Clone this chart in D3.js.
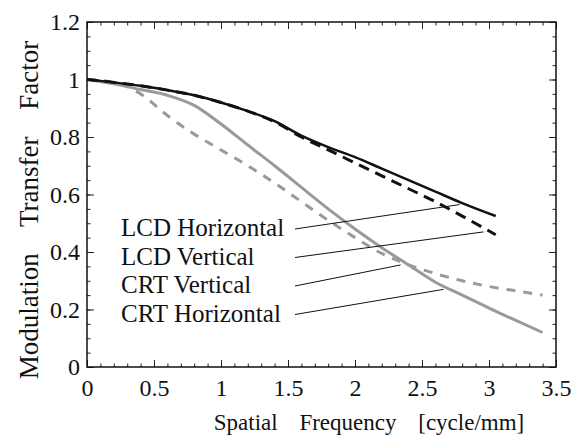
<!DOCTYPE html>
<html lang="en">
	<head>
		<meta charset="utf-8">
		<title>MTF - LCD vs CRT</title>
		<script type="text/javascript" src="https://cdn.jsdelivr.net/npm/d3@7"></script>
		<style type="text/css">
			body { margin: 0; background: #fff; }
			svg text { font-family: "Liberation Serif", "Times New Roman", serif !important; }
		</style>
	</head>
	<body>
		<script type="text/javascript">

			//Width and height
			var w = 573;
			var h = 438;
			var margin = { top: 22, right: 17, bottom: 71, left: 87 };

			//Data (x = spatial frequency, y = MTF)
			var lcdHx = [0, 0.2, 0.4, 0.6, 0.8, 1.0, 1.2, 1.4, 1.6, 1.8, 2.0, 2.2, 2.4, 2.6, 2.8, 3.05];
			var lcdHy = [1.0, 0.99, 0.978, 0.963, 0.945, 0.92, 0.89, 0.855, 0.805, 0.765, 0.73, 0.69, 0.65, 0.61, 0.57, 0.525];

			var lcdVx = [0, 0.2, 0.4, 0.6, 0.8, 1.0, 1.2, 1.4, 1.6, 1.8, 2.0, 2.2, 2.4, 2.6, 2.8, 3.05];
			var lcdVy = [1.0, 0.99, 0.978, 0.963, 0.945, 0.92, 0.89, 0.853, 0.80, 0.755, 0.71, 0.665, 0.62, 0.575, 0.525, 0.46];

			var crtVx = [0, 0.2, 0.3, 0.4, 0.6, 0.8, 1.0, 1.2, 1.4, 1.6, 1.8, 2.0, 2.2, 2.4, 2.6, 2.8, 3.0, 3.2, 3.4];
			var crtVy = [1.0, 0.99, 0.975, 0.95, 0.875, 0.81, 0.755, 0.70, 0.64, 0.575, 0.51, 0.45, 0.395, 0.355, 0.325, 0.30, 0.28, 0.265, 0.25];

			var crtHx = [0, 0.2, 0.4, 0.6, 0.8, 1.0, 1.2, 1.4, 1.6, 1.8, 2.0, 2.2, 2.4, 2.6, 2.8, 3.0, 3.2, 3.4];
			var crtHy = [1.0, 0.985, 0.965, 0.945, 0.91, 0.845, 0.772, 0.70, 0.625, 0.55, 0.48, 0.415, 0.355, 0.295, 0.25, 0.205, 0.162, 0.12];

			//Labels and where each pointer line touches its curve
			var legendLabels = ["LCD Horizontal", "LCD Vertical", "CRT Vertical", "CRT Horizontal"];
			var pointerX = [2.78, 2.96, 2.34, 2.66];
			var pointerY = [0.565, 0.47, 0.355, 0.27];

			var xTicks = [0, 0.5, 1, 1.5, 2, 2.5, 3, 3.5];
			var yTicks = [0, 0.2, 0.4, 0.6, 0.8, 1, 1.2];

			var series = [
				{ xs: crtVx, ys: crtVy, color: "#9a9a9a", width: 3, dash: "9,8" },
				{ xs: crtHx, ys: crtHy, color: "#9a9a9a", width: 3, dash: null },
				{ xs: lcdVx, ys: lcdVy, color: "#111", width: 3, dash: "11,7" },
				{ xs: lcdHx, ys: lcdHy, color: "#111", width: 2.5, dash: null }
			];

			var xScale = d3.scaleLinear().domain([0, 3.5]).range([margin.left, w - margin.right]);
			var yScale = d3.scaleLinear().domain([0, 1.2]).range([h - margin.bottom, margin.top]);

			//Create SVG element
			var svg = d3.select("body")
						.append("svg")
						.attr("width", w)
						.attr("height", h);

			//Minor ticks on all four sides, pointing inward
			var minorX = d3.range(0, 3.501, 0.1);
			var minorY = d3.range(0, 1.201, 0.05);

			svg.append("g")
				.attr("transform", "translate(0," + (h - margin.bottom) + ")")
				.call(d3.axisBottom(xScale).tickValues(minorX).tickSize(-3.5).tickFormat(""));
			svg.append("g")
				.attr("transform", "translate(0," + margin.top + ")")
				.call(d3.axisTop(xScale).tickValues(minorX).tickSize(-3.5).tickFormat(""));
			svg.append("g")
				.attr("transform", "translate(" + margin.left + ",0)")
				.call(d3.axisLeft(yScale).tickValues(minorY).tickSize(-3.5).tickFormat(""));
			svg.append("g")
				.attr("transform", "translate(" + (w - margin.right) + ",0)")
				.call(d3.axisRight(yScale).tickValues(minorY).tickSize(-3.5).tickFormat(""));

			//Major ticks with labels
			svg.append("g")
				.attr("transform", "translate(0," + (h - margin.bottom) + ")")
				.call(d3.axisBottom(xScale).tickValues(xTicks).tickSize(-7).tickPadding(12)
					.tickFormat(function(d) { return String(d); }));
			svg.append("g")
				.attr("transform", "translate(" + margin.left + ",0)")
				.call(d3.axisLeft(yScale).tickValues(yTicks).tickSize(-7).tickPadding(7)
					.tickFormat(function(d) { return String(d); }));
			svg.append("g")
				.attr("transform", "translate(0," + margin.top + ")")
				.call(d3.axisTop(xScale).tickValues(xTicks).tickSize(-7).tickFormat(""));
			svg.append("g")
				.attr("transform", "translate(" + (w - margin.right) + ",0)")
				.call(d3.axisRight(yScale).tickValues(yTicks).tickSize(-7).tickFormat(""));

			svg.selectAll("g").attr("font-size", 24);
			svg.selectAll(".tick text").attr("fill", "#111");
			svg.selectAll(".domain").remove();
			svg.selectAll(".tick line").attr("stroke", "#222").attr("stroke-width", 1);

			//Frame
			svg.append("rect")
				.attr("x", margin.left)
				.attr("y", margin.top)
				.attr("width", w - margin.left - margin.right)
				.attr("height", h - margin.top - margin.bottom)
				.attr("fill", "none")
				.attr("stroke", "#111")
				.attr("stroke-width", 1.5);

			//Curves
			var line = d3.line()
				.x(function(d) { return xScale(d[0]); })
				.y(function(d) { return yScale(d[1]); })
				.curve(d3.curveMonotoneX);

			series.forEach(function(s) {
				var pts = s.xs.map(function(x, i) { return [x, s.ys[i]]; });
				svg.append("path")
					.attr("d", line(pts))
					.attr("fill", "none")
					.attr("stroke", s.color)
					.attr("stroke-width", s.width)
					.attr("stroke-dasharray", s.dash);
			});

			//Labels with pointer lines
			var labelX = 121, labelY0 = 236, labelStep = 28.5;
			legendLabels.forEach(function(t, i) {
				var by = labelY0 + i * labelStep;
				svg.append("text")
					.attr("x", labelX)
					.attr("y", by)
					.attr("font-size", 25)
					.attr("fill", "#111")
					.text(t);
				svg.append("line")
					.attr("x1", 295)
					.attr("y1", by - 7)
					.attr("x2", xScale(pointerX[i]))
					.attr("y2", yScale(pointerY[i]))
					.attr("stroke", "#111")
					.attr("stroke-width", 1);
			});

			//Axis titles
			svg.append("text")
				.attr("x", 369)
				.attr("y", 430)
				.attr("text-anchor", "middle")
				.attr("font-size", 23)
				.attr("fill", "#111")
				.style("word-spacing", "16px")
				.text("Spatial Frequency [cycle/mm]");

			svg.append("text")
				.attr("transform", "translate(38,210) rotate(-90)")
				.attr("text-anchor", "middle")
				.attr("font-size", 27)
				.attr("fill", "#111")
				.style("word-spacing", "20px")
				.text("Modulation Transfer Factor");

		</script>
	</body>
</html>
